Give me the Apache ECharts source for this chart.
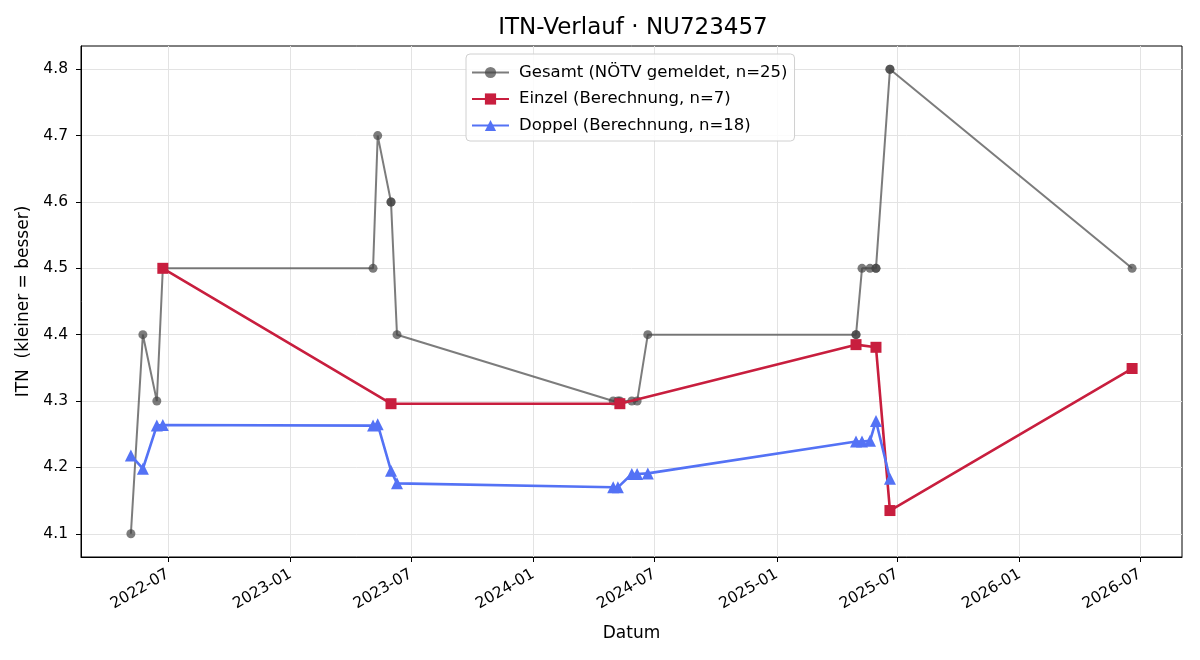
<!DOCTYPE html>
<html>
<head>
<meta charset="utf-8">
<script src="https://cdn.jsdelivr.net/npm/echarts@6/dist/echarts.min.js"></script>
<style>
  html, body { margin: 0; padding: 0; background: #fff; }
  #chart { width: 1200px; height: 660px; }
</style>
</head>
<body>
<div id="chart"></div>
<script>
// Gesamt (NÖTV gemeldet) – one entry per match, duplicates at same date overlap
const gesamtDates = [
  '2022-05-06', '2022-05-24', '2022-06-14', '2022-06-23', '2022-06-23',
  '2023-05-05', '2023-05-12', '2023-06-01', '2023-06-01', '2023-06-10',
  '2024-04-30', '2024-05-07', '2024-05-10', '2024-05-28', '2024-06-05', '2024-06-21',
  '2025-04-30', '2025-04-30', '2025-05-09', '2025-05-21', '2025-05-30', '2025-05-30',
  '2025-06-20', '2025-06-20', '2026-06-19'
];
const gesamtValues = [
  4.1, 4.4, 4.3, 4.5, 4.5,
  4.5, 4.7, 4.6, 4.6, 4.4,
  4.3, 4.3, 4.3, 4.3, 4.3, 4.4,
  4.4, 4.4, 4.5, 4.5, 4.5, 4.5,
  4.8, 4.8, 4.5
];

const einzelDates = ['2022-06-23', '2023-06-01', '2024-05-10', '2025-04-30', '2025-05-30', '2025-06-20', '2026-06-19'];
const einzelValues = [4.5, 4.296, 4.296, 4.385, 4.381, 4.135, 4.349];

const doppelDates = [
  '2022-05-06', '2022-05-24', '2022-06-14', '2022-06-23',
  '2023-05-05', '2023-05-12', '2023-06-01', '2023-06-10',
  '2024-04-30', '2024-05-07', '2024-05-28', '2024-06-05', '2024-06-21',
  '2025-04-30', '2025-05-09', '2025-05-21', '2025-05-30', '2025-06-20'
];
const doppelValues = [
  4.218, 4.198, 4.263, 4.264,
  4.263, 4.265, 4.195, 4.176,
  4.170, 4.170, 4.190, 4.190, 4.191,
  4.239, 4.239, 4.240, 4.270, 4.183
];

const xTickLabels = ['2022-07', '2023-01', '2023-07', '2024-01', '2024-07', '2025-01', '2025-07', '2026-01', '2026-07'];
const yTickLabels = [4.1, 4.2, 4.3, 4.4, 4.5, 4.6, 4.7, 4.8];

const xMin = '2022-02-20';
const xMax = '2026-09-02';
const yMin = 4.065;
const yMax = 4.835;

const FONT = 'DejaVu Sans';

// dates -> UTC timestamps (x axis is a plain value axis in ms)
const ts = s => Date.parse(s + 'T00:00:00Z');

function pairs(dates, values) {
  return dates.map((d, i) => [ts(d), values[i]]);
}

const xTickValues = xTickLabels.map(l => ts(l + '-01'));

function fmtMonth(v) {
  const d = new Date(v);
  const m = d.getUTCMonth() + 1;
  return d.getUTCFullYear() + '-' + (m < 10 ? '0' + m : m);
}

const chart = echarts.init(document.getElementById('chart'), null, { renderer: 'canvas' });

chart.setOption({
  animation: false,
  backgroundColor: '#fff',
  textStyle: { fontFamily: FONT, color: '#000' },
  title: {
    text: 'ITN-Verlauf · NU723457',
    left: 628,
    top: 12,
    textAlign: 'center',
    textStyle: { fontFamily: FONT, fontSize: 23, fontWeight: 'normal', color: '#000' }
  },
  legend: {
    orient: 'vertical',
    left: 466,
    top: 54,
    padding: [10, 7, 7, 5],
    itemWidth: 37,
    itemHeight: 14,
    itemGap: 9.5,
    backgroundColor: 'rgba(255,255,255,0.85)',
    borderColor: '#d0d0d0',
    borderWidth: 1,
    borderRadius: 4,
    textStyle: { fontFamily: FONT, fontSize: 16.5, color: '#000', padding: [0, 0, 0, 5] }
  },
  grid: {
    left: 81, right: 18, top: 46, bottom: 103,
    show: true, borderColor: '#000', borderWidth: 1
  },
  xAxis: {
    type: 'value',
    min: ts(xMin),
    max: ts(xMax),
    scale: true,
    name: 'Datum',
    nameLocation: 'middle',
    nameGap: 68,
    nameTextStyle: { fontFamily: FONT, fontSize: 17, color: '#000' },
    axisLine: { show: true, lineStyle: { color: '#000', width: 1 } },
    axisTick: { show: true, length: 5, customValues: xTickValues, lineStyle: { color: '#000' } },
    axisLabel: {
      customValues: xTickValues,
      rotate: 30,
      margin: 16,
      fontFamily: FONT,
      fontSize: 15.5,
      color: '#000',
      formatter: fmtMonth
    },
    splitLine: { show: true, lineStyle: { color: '#e3e3e3', width: 1 } }
  },
  yAxis: {
    type: 'value',
    min: yMin,
    max: yMax,
    minInterval: 0.1,
    maxInterval: 0.1,
    name: 'ITN  (kleiner = besser)',
    nameLocation: 'middle',
    nameGap: 41,
    nameTextStyle: { fontFamily: FONT, fontSize: 17, color: '#000' },
    axisLine: { show: true, lineStyle: { color: '#000', width: 1 } },
    axisTick: { show: true, length: 5, customValues: yTickLabels, lineStyle: { color: '#000' } },
    axisLabel: {
      customValues: yTickLabels,
      margin: 13,
      fontFamily: FONT,
      fontSize: 15.5,
      color: '#000',
      formatter: v => v.toFixed(1)
    },
    splitLine: { show: true, lineStyle: { color: '#e3e3e3', width: 1 } }
  },
  series: [
    {
      name: 'Gesamt (NÖTV gemeldet, n=25)',
      type: 'line',
      data: pairs(gesamtDates, gesamtValues),
      symbol: 'circle',
      symbolSize: 9,
      color: 'rgba(68,68,68,0.7)',
      lineStyle: { color: 'rgba(68,68,68,0.7)', width: 2 },
      itemStyle: { color: 'rgba(68,68,68,0.7)', borderWidth: 0 },
      emphasis: { disabled: true },
      z: 2
    },
    {
      name: 'Einzel (Berechnung, n=7)',
      type: 'line',
      data: pairs(einzelDates, einzelValues),
      symbol: 'rect',
      symbolSize: 11,
      color: '#c81e3e',
      lineStyle: { color: '#c81e3e', width: 2.6 },
      itemStyle: { color: '#c81e3e', borderWidth: 0 },
      emphasis: { disabled: true },
      z: 3
    },
    {
      name: 'Doppel (Berechnung, n=18)',
      type: 'line',
      data: pairs(doppelDates, doppelValues),
      symbol: 'triangle',
      symbolSize: 12,
      color: '#5472f5',
      lineStyle: { color: '#5472f5', width: 2.6 },
      itemStyle: { color: '#5472f5', borderWidth: 0 },
      emphasis: { disabled: true },
      z: 4
    }
  ]
});
</script>
</body>
</html>
